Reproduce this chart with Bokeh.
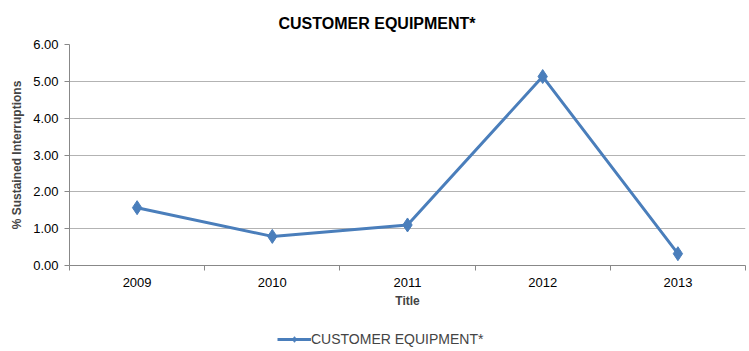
from bokeh.plotting import figure
from bokeh.layouts import column
from bokeh.models import (FixedTicker, NumeralTickFormatter, Legend, LegendItem,
                          Range1d, ColumnDataSource)
from bokeh.embed import file_html
from bokeh.resources import INLINE

years = [2009, 2010, 2011, 2012, 2013]
values = [1.57, 0.79, 1.10, 5.13, 0.32]
y_ticks = [0, 1, 2, 3, 4, 5, 6]
series_name = "CUSTOMER EQUIPMENT*"

FONT = "Liberation Sans"
BLUE = "#4A7EBB"
GRID = "#B3B3B3"
AXIS = "#888888"

src = ColumnDataSource(dict(x=years, y=values))

p = figure(width=749, height=320, output_backend="svg", toolbar_location=None,
           x_range=Range1d(years[0] - 0.5, years[-1] + 0.5),
           y_range=Range1d(0, 6),
           min_border_left=69, min_border_right=4, min_border_top=44,
           min_border_bottom=55)
p.outline_line_color = None
p.background_fill_color = "white"
p.border_fill_color = "white"

p.title.text = series_name
p.title.text_font = FONT
p.title.text_font_size = "16px"
p.title.text_font_style = "bold"
p.title.align = "left"
p.title.offset = 209
p.title.text_color = "black"
p.title.vertical_align = "top"
p.title.standoff = 22

# x axis
p.xaxis.ticker = FixedTicker(ticks=years, minor_ticks=[y - 0.5 for y in years] + [years[-1] + 0.5])
p.xaxis.major_tick_line_color = None
p.xaxis.minor_tick_line_color = AXIS
p.xaxis.minor_tick_out = 5
p.xaxis.minor_tick_in = 0
p.xaxis.axis_line_color = AXIS
p.xaxis.major_label_text_font = FONT
p.xaxis.major_label_text_font_size = "13px"
p.xaxis.major_label_text_color = "black"
p.xaxis.major_label_standoff = 6
p.xaxis.axis_label = "Title"
p.xaxis.axis_label_text_font = FONT
p.xaxis.axis_label_text_font_size = "12px"
p.xaxis.axis_label_text_font_style = "bold"
p.xaxis.axis_label_standoff = 4

# y axis
p.yaxis.ticker = FixedTicker(ticks=y_ticks, minor_ticks=[])
p.yaxis.formatter = NumeralTickFormatter(format="0.00")
p.yaxis.major_tick_line_color = AXIS
p.yaxis.major_tick_out = 5
p.yaxis.major_tick_in = 0
p.yaxis.axis_line_color = AXIS
p.yaxis.major_label_text_font = FONT
p.yaxis.major_label_text_font_size = "13px"
p.yaxis.major_label_text_color = "black"
p.yaxis.major_label_standoff = 6
p.yaxis.axis_label = "% Sustained Interruptions"
p.yaxis.axis_label_text_font = FONT
p.yaxis.axis_label_text_font_size = "12px"
p.yaxis.axis_label_text_font_style = "bold"
p.yaxis.axis_label_standoff = 6

p.xgrid.grid_line_color = None
p.ygrid.grid_line_color = GRID
p.ygrid.grid_line_width = 1.2

p.line("x", "y", source=src, line_color=BLUE, line_width=3)
p.scatter("x", "y", source=src, marker="diamond", size=14,
          fill_color=BLUE, line_color=BLUE)

# legend strip below the chart
lg = figure(width=749, height=31, output_backend="svg", toolbar_location=None,
            x_range=Range1d(0, 1), y_range=Range1d(0, 1),
            min_border_left=0, min_border_right=0, min_border_top=0,
            min_border_bottom=0)
lg.axis.visible = False
lg.grid.visible = False
lg.outline_line_color = None
lg_ln = lg.line("x", "y", source=src, line_color=BLUE, line_width=3, visible=False)
lg_mk = lg.scatter("x", "y", source=src, marker="diamond", size=9,
                   fill_color=BLUE, line_color=BLUE, visible=False)
legend = Legend(items=[LegendItem(label=series_name, renderers=[lg_ln, lg_mk])],
                orientation="horizontal", location=(208, 4),
                label_text_font=FONT, label_text_font_size="14px",
                border_line_color=None, background_fill_alpha=0,
                glyph_width=34, glyph_height=14, label_height=14,
                label_standoff=0, padding=0, margin=0, spacing=0)
lg.add_layout(legend, "center")

layout = column(p, lg, spacing=0)
open("out.html", "w").write(file_html(layout, INLINE))
